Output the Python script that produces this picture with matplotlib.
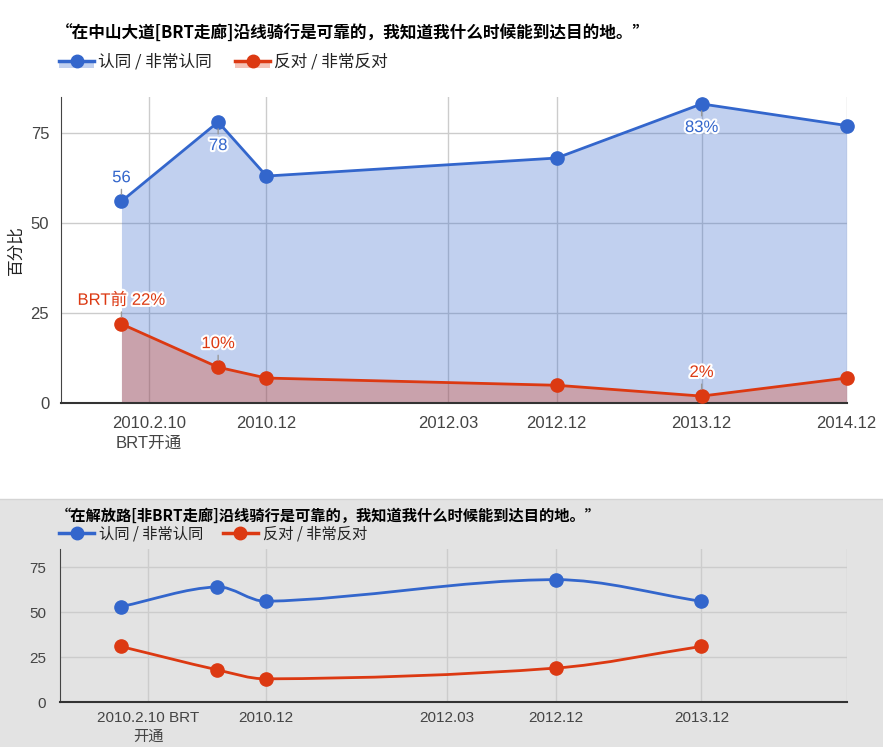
import matplotlib
matplotlib.use("Agg")
import matplotlib.pyplot as plt
from matplotlib.path import Path
from matplotlib.patches import PathPatch, Rectangle
from matplotlib.lines import Line2D
from matplotlib.legend_handler import HandlerBase
import matplotlib.patheffects as pe

# ---------------- data ----------------
top_title = "“在中山大道[BRT走廊]沿线骑行是可靠的，我知道我什么时候能到达目的地。”"
bottom_title = "“在解放路[非BRT走廊]沿线骑行是可靠的，我知道我什么时候能到达目的地。”"
series_names = ["认同 / 非常认同", "反对 / 非常反对"]
y_label = "百分比"

top_dates = ["2009-12", "2010-08", "2010-12", "2012-12", "2013-12", "2014-12"]
top_agree = [56, 78, 63, 68, 83, 77]
top_disagree = [22, 10, 7, 5, 2, 7]
top_agree_notes = ["56", "78", "", "", "83%", ""]
top_disagree_notes = ["BRT前 22%", "10%", "", "", "2%", ""]

bottom_dates = ["2009-12", "2010-08", "2010-12", "2012-12", "2013-12"]
bottom_agree = [53, 64, 56, 68, 56]
bottom_disagree = [31, 18, 13, 19, 31]

tick_dates = ["2010-02-10", "2010-12", "2012-03", "2012-12", "2013-12", "2014-12"]
top_tick_labels = ["2010.2.10\nBRT开通", "2010.12", "2012.03", "2012.12", "2013.12", "2014.12"]
bottom_tick_labels = ["2010.2.10 BRT\n开通", "2010.12", "2012.03", "2012.12", "2013.12", ""]
y_ticks = [0, 25, 50, 75]

# ---------------- helpers ----------------
def to_year(s):
    p = [int(v) for v in s.split("-")]
    d = p[2] if len(p) > 2 else 1
    return p[0] + (p[1] - 1) / 12 + (d - 1) / 365


def smooth_path(xs, ys):
    n = len(xs)
    slopes = []
    for i in range(n):
        a = max(i - 1, 0)
        b = min(i + 1, n - 1)
        slopes.append((ys[b] - ys[a]) / (xs[b] - xs[a]))
    verts = [(xs[0], ys[0])]
    codes = [Path.MOVETO]
    for i in range(n - 1):
        dx = (xs[i + 1] - xs[i]) / 3
        verts += [(xs[i] + dx, ys[i] + slopes[i] * dx),
                  (xs[i + 1] - dx, ys[i + 1] - slopes[i + 1] * dx),
                  (xs[i + 1], ys[i + 1])]
        codes += [Path.CURVE4] * 3
    return Path(verts, codes)


class SeriesHandler(HandlerBase):
    def __init__(self, fill):
        super().__init__()
        self.fill = fill

    def create_artists(self, legend, orig_handle, xdescent, ydescent,
                       width, height, fontsize, trans):
        c = orig_handle.get_color()
        x0, y0 = -xdescent, -ydescent
        yc = y0 + height / 2
        arts = []
        if self.fill:
            arts.append(Rectangle((x0, y0 - height * 0.15), width, height / 2 + height * 0.15,
                                  facecolor=c, alpha=0.3, edgecolor="none", transform=trans))
        arts.append(Line2D([x0, x0 + width], [yc, yc], color=c, lw=2.5, transform=trans))
        arts.append(Line2D([x0 + width / 2], [yc], marker="o", ms=9, color=c,
                           ls="none", transform=trans))
        return arts


BLUE = "#3366cc"
RED = "#dc3912"
FONT = ["Liberation Sans", "Noto Sans CJK SC"]
CJK = ["Noto Sans CJK SC", "DejaVu Sans"]
plt.rcParams["font.family"] = FONT

W, H = 883, 747
fig = plt.figure(figsize=(W / 100, H / 100), dpi=100)
fig.patch.set_facecolor("white")

# gray band for lower chart
fig.add_artist(Rectangle((0, 0), 1, (H - 499) / H, transform=fig.transFigure,
                         facecolor="#e3e3e3", edgecolor="none", zorder=-10))
fig.add_artist(Line2D([0, 1], [(H - 499) / H] * 2, transform=fig.transFigure,
                      color="#d4d4d4", lw=1, zorder=-9))

xmin = to_year("2009-07")
xmax = to_year("2014-12")
ticks = [to_year(d) for d in tick_dates]


def style_axes(ax, labels, size, ypad, xpad):
    ax.set_xlim(xmin, xmax)
    ax.set_ylim(0, 85)
    ax.set_xticks(ticks)
    ax.set_xticklabels(labels)
    ax.set_yticks(y_ticks)
    ax.grid(True, color="#cccccc", lw=1)
    ax.set_axisbelow(True)
    for s in ["top", "right"]:
        ax.spines[s].set_visible(False)
    ax.spines["left"].set_color("#444444")
    ax.spines["bottom"].set_color("#333333")
    ax.spines["bottom"].set_linewidth(1.5)
    ax.tick_params(axis="both", length=0, labelsize=size, colors="#444444")
    ax.tick_params(axis="y", pad=ypad)
    ax.tick_params(axis="x", pad=xpad)
    for t in ax.get_xticklabels() + ax.get_yticklabels():
        t.set_fontfamily(FONT)
    for t in ax.get_xticklabels():
        t.set_linespacing(1.45)


# ---------------- top chart ----------------
ax1 = fig.add_axes([61 / W, (H - 403.3) / H, (846.7 - 61) / W, (403.3 - 96.7) / H])
x1 = [to_year(d) for d in top_dates]
ax1.fill_between(x1, 0, top_agree, color=BLUE, alpha=0.3, lw=0, zorder=1)
ax1.fill_between(x1, 0, top_disagree, color=RED, alpha=0.3, lw=0, zorder=1.1)
ax1.plot(x1, top_agree, color=BLUE, lw=2, marker="o", ms=9.5, zorder=4, clip_on=False)
ax1.plot(x1, top_disagree, color=RED, lw=2, marker="o", ms=9.5, zorder=4, clip_on=False)
style_axes(ax1, top_tick_labels, 12, 8.5, 9)
ax1.set_ylabel(y_label, fontsize=12, family=CJK, color="#222222")
ax1.yaxis.set_label_coords(-0.046, 0.5)

halo = [pe.withStroke(linewidth=3, foreground="white")]
agree_offsets = [17, -17, 0, 0, -17, 0]
for i, txt in enumerate(top_agree_notes):
    if txt:
        ax1.annotate(txt, (x1[i], top_agree[i]), xytext=(0, agree_offsets[i]),
                     textcoords="offset points", ha="center", va="center",
                     color=BLUE, fontsize=12, family=FONT, path_effects=halo, zorder=5,
                     arrowprops=dict(arrowstyle="-", color="#999999", lw=1,
                                     shrinkA=1, shrinkB=5))
for i, txt in enumerate(top_disagree_notes):
    if txt:
        ax1.annotate(txt, (x1[i], top_disagree[i]), xytext=(0, 17),
                     textcoords="offset points", ha="center", va="center",
                     color=RED, fontsize=12, family=FONT, path_effects=halo, zorder=5,
                     annotation_clip=False,
                     arrowprops=dict(arrowstyle="-", color="#999999", lw=1,
                                     shrinkA=1, shrinkB=5))

hb = Line2D([], [], color=BLUE)
hr = Line2D([], [], color=RED)
ax1.legend([hb, hr], series_names, handler_map={hb: SeriesHandler(True), hr: SeriesHandler(True)},
           loc="center left", bbox_to_anchor=(59 / W, 1 - 62 / H), bbox_transform=fig.transFigure,
           ncol=2, frameon=False, handlelength=2.1, handletextpad=0.25, columnspacing=1.4,
           borderpad=0, borderaxespad=0, prop={"family": CJK, "size": 12}, labelcolor="#222222")
fig.text(56 / W, 1 - 34 / H, top_title, fontsize=12, fontweight="bold", family=CJK,
         ha="left", va="center", color="#000000")

# ---------------- bottom chart ----------------
ax2 = fig.add_axes([60 / W, (H - 702.3) / H, (846.7 - 60) / W, (702.3 - 549) / H])
ax2.set_facecolor("none")
x2 = [to_year(d) for d in bottom_dates]
for ys, c in [(bottom_agree, BLUE), (bottom_disagree, RED)]:
    ax2.add_patch(PathPatch(smooth_path(x2, ys), facecolor="none", edgecolor=c, lw=2, zorder=3))
    ax2.plot(x2, ys, ls="none", marker="o", ms=9.5, color=c, zorder=4)
style_axes(ax2, bottom_tick_labels, 11, 10, 6.5)

hb2 = Line2D([], [], color=BLUE)
hr2 = Line2D([], [], color=RED)
ax2.legend([hb2, hr2], series_names, handler_map={hb2: SeriesHandler(False), hr2: SeriesHandler(False)},
           loc="center left", bbox_to_anchor=(59 / W, 1 - 534 / H), bbox_transform=fig.transFigure,
           ncol=2, frameon=False, handlelength=2.3, handletextpad=0.3, columnspacing=1.3,
           borderpad=0, borderaxespad=0, prop={"family": CJK, "size": 11}, labelcolor="#222222")
fig.text(56 / W, 1 - 516 / H, bottom_title, fontsize=11, fontweight="bold", family=CJK,
         ha="left", va="center", color="#000000")

fig.savefig("out.png", dpi=100)
